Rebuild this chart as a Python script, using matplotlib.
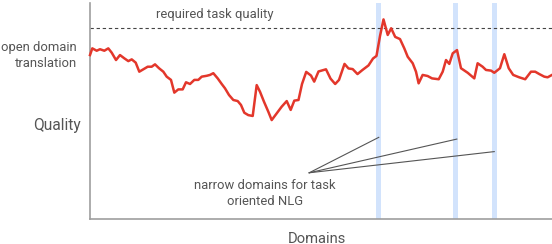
import numpy as np
import matplotlib
matplotlib.use("Agg")
import matplotlib.pyplot as plt

plt.rcParams["font.family"] = ["Roboto", "DejaVu Sans"]

# ---------------------------------------------------------------------
# Data (domain position 0..100, quality 0..100)
# ---------------------------------------------------------------------
domain = [0.0, 0.5, 1.45, 2.16, 3.1, 3.96, 4.7, 5.63, 6.49, 7.42, 8.29, 9.03,
          9.89, 10.67, 11.54, 12.49, 13.35, 14.07, 14.94, 15.87, 16.6, 17.53,
          18.25, 19.11, 20.06, 20.78, 21.65, 22.58, 23.44, 24.18, 25.26, 25.97,
          26.69, 27.64, 28.51, 29.22, 30.09, 31.02, 31.97, 32.68, 33.4, 34.26,
          35.22, 36.08, 36.8, 37.66, 38.59, 39.33, 40.41, 41.49, 42.58, 43.44,
          44.22, 45.13, 45.89, 46.8, 47.84, 48.53, 49.46, 51.08, 52.06, 53.07,
          53.9, 55.09, 55.95, 56.86, 57.9, 58.98, 60.28, 61.26, 62.01, 62.77,
          63.53, 64.44, 65.19, 66.06, 67.1, 68.03, 68.77, 69.85, 70.56, 71.13,
          72.0, 73.08, 74.03, 75.48, 76.34, 77.06, 77.77, 78.51, 79.44, 80.3,
          81.75, 83.18, 83.9, 84.98, 85.71, 86.8, 87.51, 88.74, 89.68, 90.63,
          91.6, 92.9, 94.2, 95.45, 96.36, 97.25, 98.33, 99.05, 100.0]
quality = [75.9, 79.0, 77.9, 78.6, 77.9, 79.0, 77.0, 73.6, 75.9, 74.4, 73.1, 73.9,
           72.4, 68.2, 69.3, 70.5, 70.5, 71.6, 69.8, 68.2, 65.9, 64.4,
           58.5, 60.0, 60.0, 63.3, 62.5, 64.4, 64.4, 65.9, 66.3, 66.7,
           67.5, 65.1, 62.5, 60.5, 57.4, 55.1, 54.6, 52.8, 49.2, 48.1,
           47.7, 62.0, 58.9, 54.3, 49.7, 45.8, 48.9, 52.0, 54.6, 50.5,
           54.8, 55.1, 62.5, 68.1, 66.4, 63.6, 68.3, 69.3, 65.0, 62.5,
           64.4, 71.8, 69.7, 69.4, 67.1, 69.0, 71.1, 74.3, 75.5, 84.7,
           92.4, 85.2, 88.3, 84.3, 83.3, 79.0, 75.1, 72.1, 68.2, 62.8,
           66.7, 66.2, 65.1, 64.7, 68.2, 73.6, 71.8, 76.7, 78.2, 69.8,
           67.7, 65.1, 72.1, 70.5, 69.0, 68.7, 67.7, 69.8, 76.3, 69.8,
           66.7, 65.6, 64.7, 68.2, 68.2, 67.1, 65.9, 65.6, 66.7]

required_quality = 88.4

# narrow domains (start, end of highlighted band)
narrow_bands = [(61.9, 63.0), (78.6, 79.7), (87.0, 88.1)]

# annotation: text anchor -> band pointers
note_origin = (47.45, 21.4)
note_targets = [(62.5, 37.8), (79.4, 37.0), (87.5, 31.2)]

TEXT_COLOR = "#555555"
LINE_RED = "#e3372b"
BAND_BLUE = "#d2e3fc"
SPINE_GRAY = "#9e9e9e"

# ---------------------------------------------------------------------
# Plot
# ---------------------------------------------------------------------
fig = plt.figure(figsize=(5.52, 2.44), dpi=100)
ax = fig.add_axes([90 / 552, 25 / 244, 462 / 552, 216 / 244])
ax.set_xlim(0, 100)
ax.set_ylim(0, 100)

for x0, x1 in narrow_bands:
    ax.axvspan(x0, x1, color=BAND_BLUE, lw=0, zorder=1)

ax.axhline(required_quality, color="#444444", lw=0.8, ls=(0, (3, 2.5)), zorder=2)

ax.plot(domain, quality, color=LINE_RED, lw=1.8, zorder=3,
        solid_joinstyle="round", clip_on=False)

for tx, ty in note_targets:
    ax.plot([note_origin[0], tx], [note_origin[1], ty], color="#555555", lw=0.8, zorder=4)

ax.text(27.1, 94.9, "required task quality", ha="center", va="center",
        fontsize=9.4, color=TEXT_COLOR)
ax.text(37.9, 12.0, "narrow domains for task\noriented NLG", ha="center", va="center",
        fontsize=9.4, color=TEXT_COLOR, linespacing=1.3)
ax.text(-2.8, 75.5, "open domain\ntranslation", ha="right", va="center",
        fontsize=9.4, color=TEXT_COLOR, linespacing=1.3, clip_on=False)
ax.text(-1.95, 43.5, "Quality", ha="right", va="center",
        fontsize=11.2, color=TEXT_COLOR, clip_on=False)
ax.text(49, -9.3, "Domains", ha="center", va="center",
        fontsize=10.6, color=TEXT_COLOR, clip_on=False)

ax.set_xticks([])
ax.set_yticks([])
for side in ("top", "right"):
    ax.spines[side].set_visible(False)
for side in ("left", "bottom"):
    ax.spines[side].set_color(SPINE_GRAY)
    ax.spines[side].set_linewidth(1.2)

fig.savefig("out.png", dpi=100)
